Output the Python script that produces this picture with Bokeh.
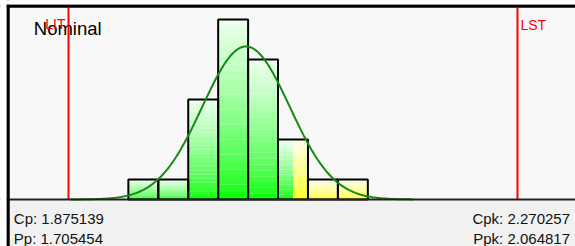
import numpy as np
from bokeh.plotting import figure
from bokeh.models import Range1d, Label, Span
from bokeh.embed import file_html
from bokeh.resources import INLINE

# ---- data ----
bin_edges = [2, 3, 4, 5, 6, 7, 8, 9, 10]
counts = [1, 1, 5, 9, 7, 3, 1, 1]
lsl = 0.0          # LIT
usl = 15.0         # LST
warn_limit = 7.5   # bars beyond this are drawn yellow
fit_mean = 5.93
fit_sigma = 1.46
curve_from = 0.07
curve_to = 11.5
stats_left = ["Cp: 1.875139", "Pp: 1.705454"]
stats_right = ["Cpk: 2.270257", "Ppk: 2.064817"]
nominal_label = "Nominal"
limit_labels = ["LIT", "LST"]

# ---- layout helpers (pixel geometry of the reference; frame == whole page) ----
W, H = 575, 246
PPU = 449.0 / (usl - lsl)        # px per x unit
YPX = 20.0                       # px per count
BASE_PY = 199


def px2x(px):
    return lsl + (px - 68) / PPU


def py2y(py):
    return (BASE_PY - py) / YPX


X0, X1 = px2x(0), px2x(W)
Y0, Y1 = py2y(H), py2y(0)

p = figure(width=W, height=H, output_backend="svg", toolbar_location=None,
           x_range=Range1d(X0, X1), y_range=Range1d(Y0, Y1),
           min_border=0, border_fill_color="white",
           background_fill_color="#f8f8f8", outline_line_color=None)
p.axis.visible = False
p.grid.visible = False

# bottom stats band
p.quad(left=[px2x(9)], right=[X1], top=[0], bottom=[Y0],
       fill_color="#f1f1f1", line_color=None, level="underlay")

# ---- histogram bars with a vertical gradient ----
segs = []
for i, c in enumerate(counts):
    l, r = bin_edges[i], bin_edges[i + 1]
    if r <= warn_limit:
        segs.append((l, r, c, "g"))
    elif l >= warn_limit:
        segs.append((l, r, c, "y"))
    else:
        segs.append((l, warn_limit, c, "g"))
        segs.append((warn_limit, r, c, "y"))

K = 24
ql, qr, qt, qb, qc = [], [], [], [], []
for (l, r, c, kind) in segs:
    for k in range(K):
        top = c * (1 - k / K)
        bot = c * (1 - (k + 1) / K)
        t = (k + 0.5) / K
        f = (1 - t) ** 0.7
        light = int(round(238 * f))
        if kind == "g":
            col = "#%02x%02x%02x" % (light, 255, light)
        else:
            col = "#%02x%02x%02x" % (255, 255, light)
        ql.append(l); qr.append(r); qt.append(top); qb.append(bot); qc.append(col)
p.quad(left=ql, right=qr, top=qt, bottom=qb, fill_color=qc, line_color=None)

p.quad(left=bin_edges[:-1], right=bin_edges[1:], top=counts, bottom=0,
       fill_color=None, line_color="black", line_width=2)

# baseline
p.add_layout(Span(location=0, dimension="width", line_color="#222222", line_width=2))

# nominal text
p.add_layout(Label(x=px2x(33.3), y=py2y(28.3), text=nominal_label,
                   text_font="Liberation Sans", text_font_size="18.5px",
                   text_color="black", text_baseline="alphabetic"))

# spec limit lines
p.segment(x0=[lsl, usl], x1=[lsl, usl], y0=[0, 0], y1=[py2y(7), py2y(7)],
          line_color="#ff0000", line_width=2)
p.add_layout(Label(x=lsl, x_offset=-3, y=py2y(23.5), text=limit_labels[0],
                   text_font="Liberation Sans", text_font_size="14px",
                   text_color="#ff0000", text_align="right", text_baseline="alphabetic"))
p.add_layout(Label(x=usl, x_offset=3, y=py2y(24), text=limit_labels[1],
                   text_font="Liberation Sans", text_font_size="14px",
                   text_color="#ff0000", text_align="left", text_baseline="alphabetic"))

# fitted normal curve
n = sum(counts)
bw = bin_edges[1] - bin_edges[0]
xs = np.linspace(curve_from, curve_to, 300)
ys = n * bw * np.exp(-0.5 * ((xs - fit_mean) / fit_sigma) ** 2) / (fit_sigma * np.sqrt(2 * np.pi))
p.line(xs, ys, line_color="#138a13", line_width=2)

# stats text
for j, (lt, rt) in enumerate(zip(stats_left, stats_right)):
    yb = py2y(218.3 + 20 * j)
    p.add_layout(Label(x=px2x(13.3), y=yb, text=lt, text_font="Liberation Sans",
                       text_font_size="15px", text_color="#111111",
                       text_baseline="alphabetic"))
    p.add_layout(Label(x=px2x(569.5), y=yb, text=rt, text_font="Liberation Sans",
                       text_font_size="15px", text_color="#111111",
                       text_align="right", text_baseline="alphabetic"))

# thick black chart border (left and top)
p.add_layout(Span(location=px2x(7.5), dimension="height", line_color="black",
                  line_width=3))
p.add_layout(Span(location=py2y(5.5), dimension="width", line_color="black",
                  line_width=3))
p.segment(x0=[px2x(7.5), px2x(6)], x1=[px2x(7.5), X1],
          y0=[py2y(4), py2y(5.5)], y1=[Y0, py2y(5.5)],
          line_color="black", line_width=3)

# page margin (white) outside the border
p.quad(left=[X0, X0], right=[px2x(6), X1], top=[Y1, Y1], bottom=[Y0, py2y(4)],
       fill_color="white", line_color=None, level="overlay")

open("out.html", "w").write(file_html(p, INLINE))
